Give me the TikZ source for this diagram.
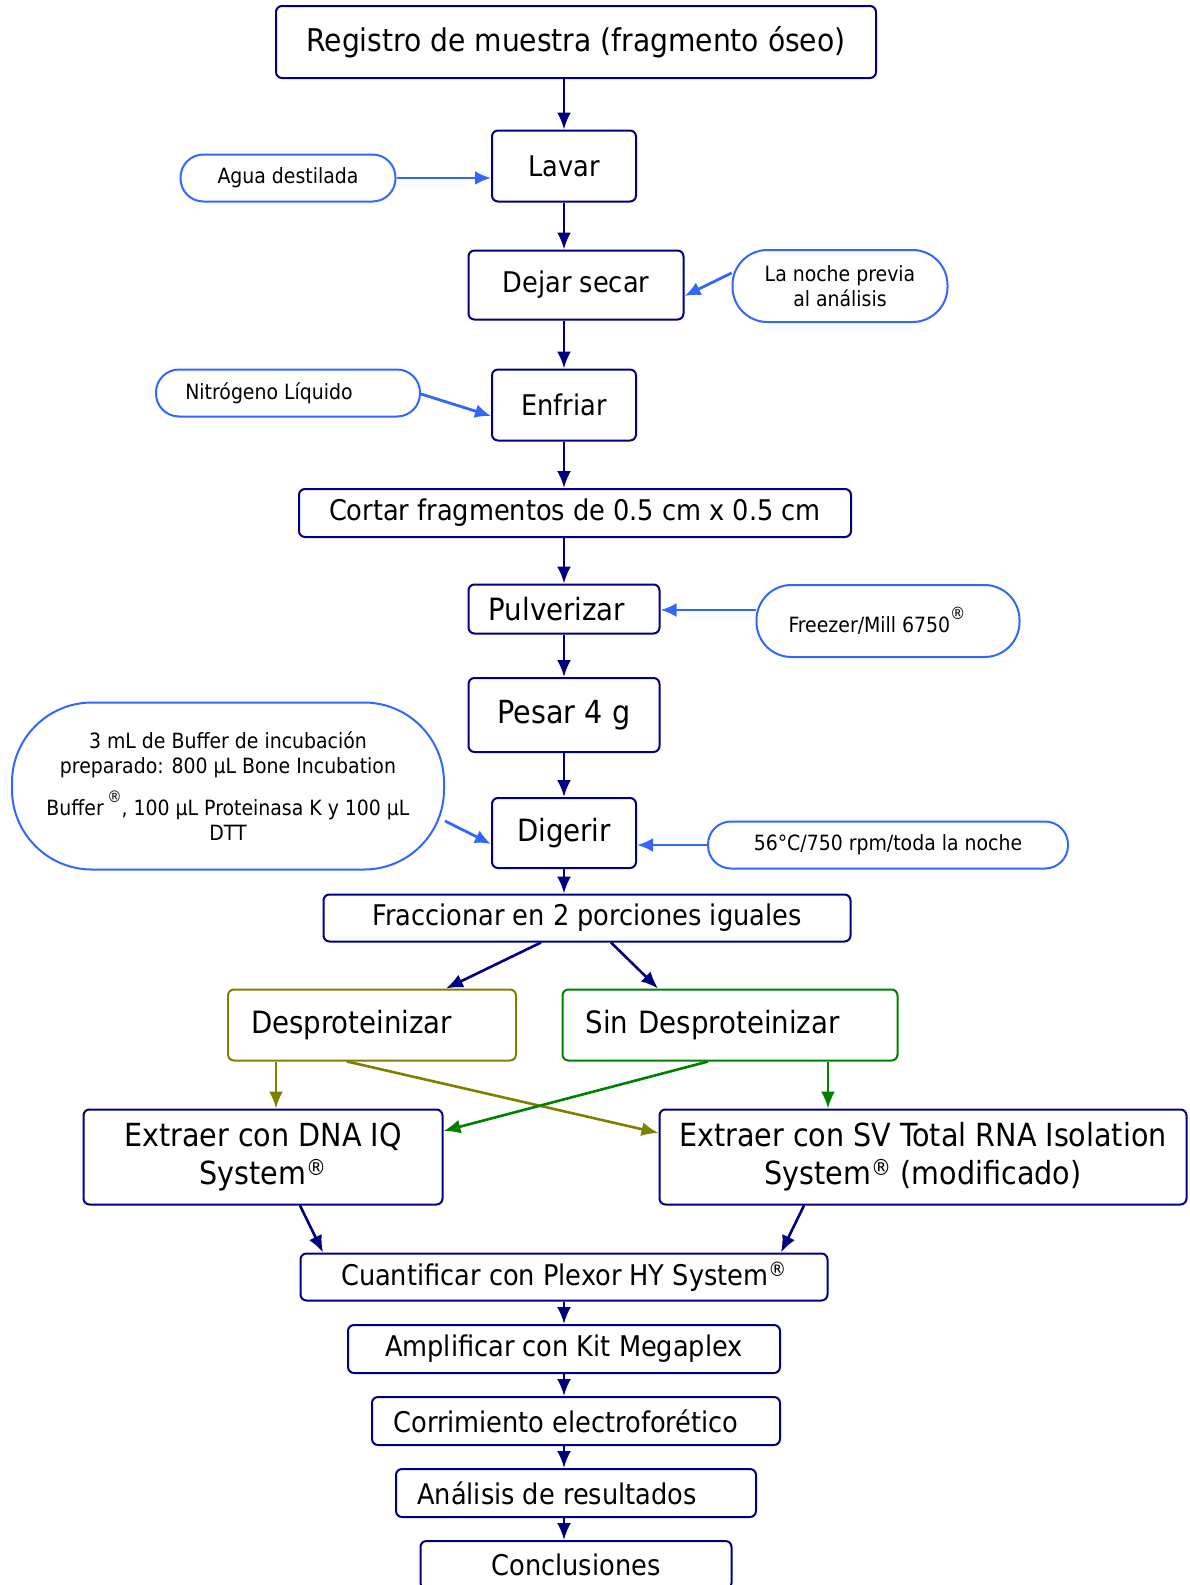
\documentclass[tikz,border=0pt]{standalone}
\usepackage{fontspec}
\setmainfont{DejaVu Sans Condensed}
\usetikzlibrary{arrows.meta}
\definecolor{navyb}{RGB}{0,0,128}
\definecolor{lblue}{RGB}{51,102,255}
\definecolor{olivec}{RGB}{128,128,0}
\definecolor{greenc}{RGB}{0,128,0}
\newcommand{\regmark}[1]{\raisebox{0.62em}{\fontsize{#1}{#1}\selectfont ®}}
\begin{document}
\begin{tikzpicture}[x=1pt,y=-1pt,
 box/.style={draw=navyb,line width=2pt,rounded corners=6pt,inner sep=0pt,font=\fontsize{28.5}{34}\selectfont,align=center},
 fmid/.style={font=\fontsize{30.7}{36}\selectfont},
 fbig/.style={font=\fontsize{31.8}{38}\selectfont},
 pill/.style={draw=lblue,line width=2pt,inner sep=0pt,font=\fontsize{21}{25}\selectfont,align=center},
 flow/.style={draw=navyb,line width=2.6pt,-{Latex[length=17pt,width=14pt]}},
 oflow/.style={flow,draw=olivec},
 gflow/.style={flow,draw=greenc},
 side/.style={draw=lblue,line width=2.8pt,-{Latex[length=16pt,width=14pt]}}]
\fill[white] (0,0) rectangle (1190,1585);
\clip (0,0) rectangle (1190,1585);
\node[box,font=\fontsize{31.3}{38}\selectfont,minimum width=600pt,minimum height=72pt] (reg) at (576,42) {Registro de muestra (fragmento óseo)};
\node[box,minimum width=144pt,minimum height=71pt] (lav) at (564,166) {Lavar};
\node[pill,rounded corners=23pt,minimum width=215pt,minimum height=47pt] (agua) at (288,178) {Agua destilada};
\node[box,minimum width=215pt,minimum height=69pt] (dej) at (576,285) {Dejar secar};
\node[pill,rounded corners=35pt,minimum width=215pt,minimum height=72pt] (noche) at (840,286) {La noche previa\\al análisis};
\node[pill,rounded corners=23pt,minimum width=264pt,minimum height=47pt] (nit) at (288,393) {Nitrógeno Líquido\hspace*{38pt}};
\node[box,minimum width=144pt,minimum height=71pt] (enf) at (564,405) {Enfriar};
\node[box,minimum width=552pt,minimum height=48pt] (cor) at (575,513) {Cortar fragmentos de 0.5 cm x 0.5 cm};
\node[box,fmid,minimum width=191pt,minimum height=49pt] (pul) at (564,609) {Pulverizar\hspace*{14pt}};
\node[pill,rounded corners=35pt,minimum width=263pt,minimum height=72pt] (frz) at (888,621) {Freezer/Mill 6750\regmark{17}\hspace*{22pt}};
\node[box,fbig,minimum width=191pt,minimum height=74pt] (pes) at (564,715) {Pesar 4 g};
\node[pill,rounded corners=80pt,minimum width=432pt,minimum height=167pt] (buf) at (228,786) {3 mL de Buffer de incubación\\preparado: 800 µL Bone Incubation\\[12pt]Buffer\,\regmark{16}, 100 µL Proteinasa K y 100 µL\\DTT};
\node[box,fmid,minimum width=144pt,minimum height=70pt] (dig) at (564,833) {Digerir};
\node[pill,rounded corners=23pt,minimum width=360pt,minimum height=47pt] (tmp) at (888,845) {56°C/750 rpm/toda la noche};
\node[box,minimum width=527pt,minimum height=47pt] (fra) at (587,918) {Fraccionar en 2 porciones iguales};
\node[box,fmid,draw=olivec,minimum width=288pt,minimum height=71pt,text width=242pt,align=left] (desp) at (372,1025) {Desproteinizar};
\node[box,fmid,draw=greenc,minimum width=335pt,minimum height=71pt,text width=289pt,align=left] (sin) at (730,1025) {Sin Desproteinizar};
\node[box,fbig,minimum width=359pt,minimum height=95pt] (dna) at (263,1157) {Extraer con DNA IQ\\System\textsuperscript{®}};
\node[box,fbig,minimum width=527pt,minimum height=95pt] (sv) at (923,1157) {Extraer con SV Total RNA Isolation\\System\textsuperscript{®} (modificado)};
\node[box,minimum width=527pt,minimum height=47pt] (cua) at (564,1277) {Cuantificar con Plexor HY System\textsuperscript{®}};
\node[box,minimum width=432pt,minimum height=48pt] (amp) at (564,1349) {Amplificar con Kit Megaplex};
\node[box,minimum width=408pt,minimum height=48pt] (corr) at (576,1421) {Corrimiento electroforético\hspace*{20pt}};
\node[box,minimum width=360pt,minimum height=48pt] (ana) at (576,1493) {Análisis de resultados\hspace*{38pt}};
\node[box,minimum width=311pt,minimum height=48pt] (con) at (576,1565) {Conclusiones};
% main flow
\draw[flow] (reg.south -| lav.north) -- (lav.north);
\draw[flow] (lav.south) -- (lav.south |- dej.north);
\draw[flow] (dej.south -| enf.north) -- (enf.north);
\draw[flow] (enf.south) -- (enf.south |- cor.north);
\draw[flow] (cor.south -| pul.north) -- (pul.north);
\draw[flow] (pul.south) -- (pes.north);
\draw[flow] (pes.south) -- (dig.north);
\draw[flow] (dig.south) -- (dig.south |- fra.north);
\draw[flow] ([xshift=-46pt]fra.south) -- ([xshift=74pt]desp.north);
\draw[flow] ([xshift=24pt]fra.south) -- ([xshift=-72pt]sin.north);
\draw[oflow] ([xshift=-96pt]desp.south) -- ([xshift=-96pt]desp.south |- dna.north);
\draw[oflow] ([xshift=-25pt]desp.south) -- ([yshift=24pt]sv.west);
\draw[gflow] ([xshift=98pt]sin.south) -- ([xshift=98pt]sin.south |- sv.north);
\draw[gflow] ([xshift=-22pt]sin.south) -- ([yshift=26pt]dna.east);
\draw[flow] ([xshift=37pt]dna.south) -- ([xshift=-241pt]cua.north);
\draw[flow] ([xshift=-119pt]sv.south) -- ([xshift=217pt]cua.north);
\draw[flow] (cua.south) -- (amp.north);
\draw[flow] (amp.south) -- (amp.south |- corr.north);
\draw[flow] (amp.south |- corr.south) -- (amp.south |- ana.north);
\draw[flow] (amp.south |- ana.south) -- (amp.south |- con.north);
% side inputs
\draw[side] (agua.east) -- (agua.east -| lav.west);
\draw[side] ([yshift=13pt]noche.west) -- ([yshift=-11pt]dej.east);
\draw[side] ([yshift=-1pt]nit.east) -- ([yshift=-11pt]enf.west);
\draw[side] ([yshift=11pt]frz.west) -- ([yshift=11pt]frz.west -| pul.east);
\draw[side] ([yshift=-35pt]buf.east) -- ([yshift=-11pt]dig.west);
\draw[side] (tmp.west) -- (tmp.west -| dig.east);
\end{tikzpicture}
\end{document}
